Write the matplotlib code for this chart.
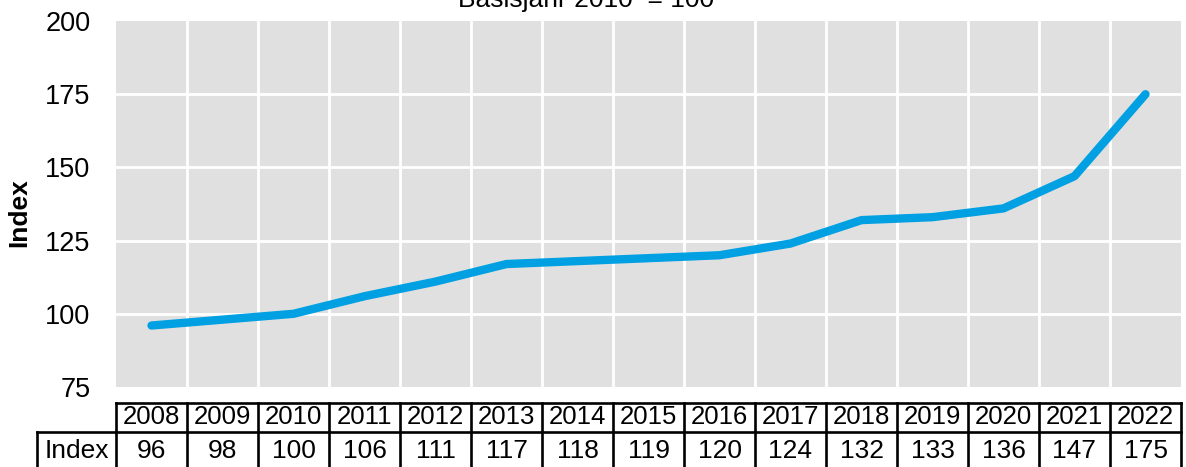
import matplotlib
matplotlib.use("Agg")
import matplotlib.pyplot as plt
import matplotlib.transforms as mtransforms
from matplotlib.lines import Line2D

plt.rcParams['font.family'] = ['Liberation Sans', 'DejaVu Sans']

years = ['2008', '2009', '2010', '2011', '2012', '2013', '2014', '2015',
         '2016', '2017', '2018', '2019', '2020', '2021', '2022']
values = [96, 98, 100, 106, 111, 117, 118, 119, 120, 124, 132, 133, 136, 147, 175]
row_label = 'Index'
title = 'Basisjahr 2010  = 100'
y_ticks = [75, 100, 125, 150, 175, 200]

W, H = 1186, 467
fig = plt.figure(figsize=(W / 100, H / 100), dpi=100)
ax = fig.add_axes([116 / W, 1 - 387 / H, (1181 - 116) / W, (387 - 21) / H])
ax.set_facecolor('#e0e0e0')

x = list(range(len(years)))
ax.set_xlim(-0.5, len(years) - 0.5)
ax.set_ylim(75, 200)

# grid
for k in range(len(years) - 1):
    ax.axvline(k + 0.5, color='white', lw=2, zorder=1)
for t in y_ticks[1:-1]:
    ax.axhline(t, color='white', lw=2, zorder=1)

ax.plot(x, values, color='#00a0e3', lw=6, solid_capstyle='round',
        solid_joinstyle='round', zorder=3)

for s in ax.spines.values():
    s.set_visible(False)
ax.set_xticks([])
ax.set_yticks(y_ticks)
ax.tick_params(axis='y', length=0, pad=18.5, labelsize=19.5)
ax.set_ylabel('Index', fontsize=19, fontweight='bold', rotation=90,
              ha='center', va='center')
ax.yaxis.set_label_coords((19 - 116) / 1065, (387 - 213) / 366)

# table under the axis
trans = mtransforms.blended_transform_factory(ax.transData, ax.transAxes)
y_top = (387 - 403) / 366
y_mid = (387 - 432) / 366
y_bot = (387 - 475) / 366
y_hdr = (387 - 417.5) / 366
y_val = (387 - 451) / 366
lk = dict(color='black', lw=1.9, clip_on=False, solid_capstyle='projecting')
n = len(years)
ax.add_line(Line2D([-0.5, n - 0.5], [y_top, y_top], transform=trans, **lk))
ax.add_line(Line2D([-0.5, n - 0.5], [y_mid, y_mid], transform=trans, **lk))
for k in range(n + 1):
    ax.add_line(Line2D([k - 0.5, k - 0.5], [y_top, y_bot], transform=trans, **lk))
xl = (37 - 116) / 1065
ax.add_line(Line2D([xl, 0], [y_mid, y_mid], transform=ax.transAxes, **lk))
ax.add_line(Line2D([xl, xl], [y_mid, y_bot], transform=ax.transAxes, **lk))
ax.text((xl + 0) / 2, y_val, row_label, transform=ax.transAxes, ha='center',
        va='center', fontsize=19)
for k in range(n):
    ax.text(k, y_hdr, years[k], transform=trans, ha='center', va='center', fontsize=18.5)
    ax.text(k, y_val, str(values[k]), transform=trans, ha='center', va='center', fontsize=19)

fig.text(0.494, 1 - 7 / H, title, ha='center', va='baseline', fontsize=19)

fig.savefig('out.png', dpi=100)
